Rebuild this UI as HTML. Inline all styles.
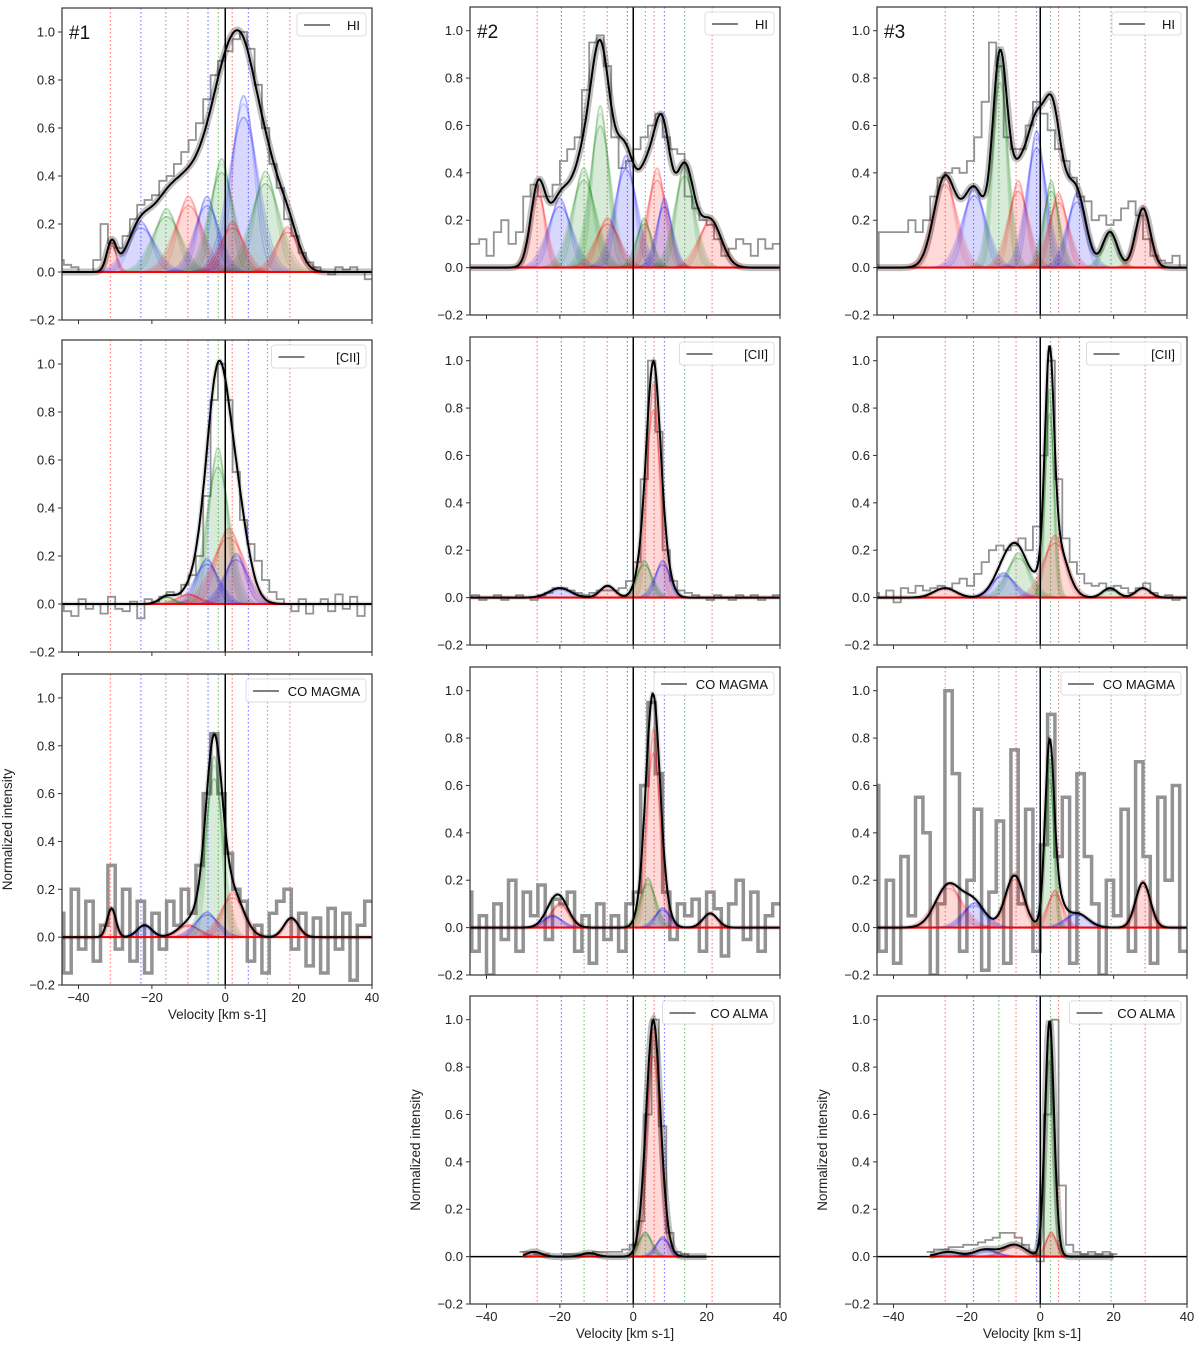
<!DOCTYPE html>
<html><head><meta charset="utf-8"><style>
body{margin:0;background:#fff}
svg{display:block;font-family:"Liberation Sans","DejaVu Sans",sans-serif}
</style></head><body>
<svg id="fig" width="1200" height="1348" viewBox="0 0 1200 1348" xmlns="http://www.w3.org/2000/svg"></svg>
<script>
// ---- data (velocity km/s, amplitude, width) ----
const ticksX=[-40,-20,0,20,40];
const ticksY=[-0.2,0,0.2,0.4,0.6,0.8,1.0];
const tickLabelsY=["\u22120.2","0.0","0.2","0.4","0.6","0.8","1.0"];
const tickLabelsX=["\u221240","\u221220","0","20","40"];
const lines1=[[-31.3,'r'],[-23,'b'],[-16.2,'g'],[-10.2,'r'],[-4.7,'b'],[-1.9,'g'],[1.9,'r'],[6.3,'b'],[11.5,'g'],[17.6,'r']];
const lines2=[[-26.2,'r'],[-19.6,'b'],[-13.4,'g'],[-7.1,'r'],[-1.6,'b'],[3.3,'g'],[5.7,'r'],[8.5,'b'],[14,'g'],[21.5,'r']];
const lines3=[[-25.9,'r'],[-18.2,'b'],[-11.3,'g'],[-6.6,'r'],[-1,'b'],[2.8,'g'],[5,'r'],[10.7,'b'],[19.3,'g'],[28.6,'r']];

const hi1_comps=[[-31,.12,1.3,'r'],[-23,.2,3.5,'b'],[-16,.25,3.5,'g'],[-10,.3,3.5,'r'],[-5,.3,3,'b'],[-1,.45,3,'g'],[5,.7,3.5,'b'],[11,.4,3.5,'g'],[17,.18,3,'r'],[2,.2,3,'r']];
const hi1_obs=[.05,.03,.02,0,0,.05,.2,.12,.1,.15,.22,.28,.3,.32,.38,.4,.45,.5,.55,.62,.72,.82,.88,.92,.97,1.0,.93,.78,.6,.45,.35,.22,.15,.08,.04,.02,0,-.01,.02,.01,.02,0,-.03];
const cii1_comps=[[-2,.62,2.8,'g'],[1,.3,4,'r'],[-5,.18,3,'b'],[3,.2,3,'b'],[-10,.04,3,'r'],[-16,.03,2,'g']];
const cii1_obs=[0,-.03,-.05,.02,-.02,0,-.04,.03,-.02,-.03,.01,-.06,.02,.01,.03,.05,.04,.08,.12,.2,.45,.85,1.0,.85,.55,.35,.25,.18,.1,.05,.02,0,-.03,.02,-.04,0,.02,-.03,.04,-.02,.03,-.05,0];
const co1_comps=[[-31,.12,1.2,'r'],[-22,.05,2,'b'],[-10,.05,3,'r'],[-3,.72,2.2,'g'],[-5,.1,3,'b'],[2,.18,3,'r'],[18,.08,2,'r']];
const co1_obs=[.1,-.15,.2,-.05,.15,-.1,.05,.3,-.05,.2,-.1,.15,-.15,.1,-.05,.15,.05,.2,.1,.3,.6,.85,.6,.35,.2,.15,-.1,.05,-.15,.1,.15,.2,-.05,.1,-.12,.08,-.15,.12,-.05,.1,-.18,.05,.15];

const hi2_comps=[[-26,.33,2,'r'],[-20,.28,3,'b'],[-13.5,.4,3,'g'],[-9,.65,2.5,'g'],[-7,.2,3,'r'],[-2,.45,2.8,'b'],[3,.2,2,'g'],[6.5,.4,2.5,'r'],[8.5,.28,2,'b'],[14,.42,2.5,'g'],[21,.2,3,'r']];
const hi2_obs=[.1,.1,.12,.05,.15,.2,.1,.15,.3,.35,.3,.3,.35,.45,.5,.55,.75,.95,.98,.85,.55,.42,.45,.5,.55,.6,.65,.55,.5,.48,.3,.25,.2,.18,.12,.05,.08,.12,.1,.05,.12,.08,.1];
const cii2_comps=[[5.5,.86,1.8,'r'],[3,.15,2,'g'],[8,.15,2,'b'],[-7,.05,2,'r'],[-20,.04,3,'b']];
const cii2_obs=[0,.01,-.01,0,.01,-.01,0,.01,0,-.01,.01,.02,.04,.04,.03,.02,.01,.02,.03,.03,.03,.04,.07,.15,.5,1.0,.7,.2,.07,.03,.02,.01,0,-.01,.01,0,-.01,.01,0,.01,-.01,0,.01];
const co2_comps=[[5.5,.8,1.8,'r'],[4,.2,2,'g'],[8,.08,2,'b'],[-20,.1,2.5,'r'],[-22,.05,2.5,'b'],[21,.06,2,'r']];
const co2_obs=[.15,-.1,.05,-.2,.1,-.05,.2,-.1,.15,.05,.18,-.05,.12,.1,.15,-.1,.05,-.15,.1,-.05,.05,-.1,.1,.15,.6,.95,.65,.15,-.05,.1,.05,.12,-.1,.15,.08,-.12,.1,.2,-.05,.15,-.1,.05,.1];
const alma2_comps=[[5.5,.92,1.8,'r'],[3.3,.1,1.8,'g'],[8,.08,1.8,'b'],[-27,.02,2,'r'],[-12,.015,2,'g']];
const alma2_obs=[.02,.02,.01,.01,0,0,.01,.01,.01,.01,.02,.02,.02,.02,.03,.05,.15,.6,1.0,.55,.1,.02,.01,0,0,0];

const hi3_comps=[[-26,.38,3,'r'],[-18,.33,3,'b'],[-11,.85,2,'g'],[-6,.35,2.5,'r'],[-1,.55,2.5,'b'],[3,.35,2,'g'],[5,.3,2.5,'r'],[10,.3,2.5,'b'],[19,.15,2,'g'],[28,.25,2,'r']];
const hi3_obs=[0,.15,.15,.15,.15,.2,.15,.2,.3,.38,.4,.42,.4,.45,.55,.7,.95,.85,.55,.5,.5,.6,.7,.65,.58,.5,.45,.38,.3,.28,.2,.22,.18,.2,.25,.28,.22,.12,.05,.03,.02,.05,0];
const cii3_comps=[[2.5,.84,1.2,'g'],[4,.25,3,'r'],[-6,.18,3,'g'],[-10,.1,3,'b'],[-26,.04,3,'r'],[19,.04,2,'g'],[28,.04,2,'r']];
const cii3_obs=[.02,0,.03,-.02,.04,.02,.05,.03,.04,.05,.04,.06,.08,.05,.1,.15,.2,.22,.2,.22,.25,.2,.3,.6,1.0,.5,.25,.15,.1,.06,.05,.06,.03,.05,.04,.02,.04,.06,.02,0,.01,-.01,0];
const co3_comps=[[-25,.18,3.5,'r'],[-18,.1,3,'b'],[-7,.22,2.5,'r'],[2.5,.68,1.2,'g'],[4,.15,2,'r'],[10,.06,3,'b'],[28,.19,2,'r']];
const co3_obs=[.6,-.1,.2,-.15,.3,.05,.55,.4,-.2,.1,1.0,.65,-.1,.2,.5,-.18,.15,.45,-.15,.75,.1,.5,-.1,.35,.9,.3,.55,-.15,.65,.3,.1,-.2,.2,.05,.5,-.1,.7,.3,-.15,.55,.2,.6,-.1];
const alma3_comps=[[2.5,.9,1.2,'g'],[3,.1,1.5,'r'],[-7,.05,3,'r'],[-15,.03,3,'b'],[-25,.02,3,'b']];
const alma3_obs=[.02,.03,.03,.04,.04,.05,.05,.06,.07,.08,.1,.1,.08,.05,.02,-.02,.6,1.0,.3,.05,.02,.01,.02,.01,.02,.01];

// ---- layout ----
const XMIN=-44.5,XMAX=40,YMIN=-0.2,YMAX=1.1;
const COLS=[62,470,877]; const W=310;
const panels=[
 {col:0,top:8,bot:320,comps:hi1_comps,obs:hi1_obs,start:-45,lines:lines1,leg:"HI",tag:"#1",band:true},
 {col:0,top:340,bot:652,comps:cii1_comps,obs:cii1_obs,start:-45,lines:lines1,leg:"[CII]"},
 {col:0,top:674,bot:985,comps:co1_comps,obs:co1_obs,start:-45,lines:lines1,leg:"CO MAGMA",xl:true,noisy:true},
 {col:1,top:7,bot:315,comps:hi2_comps,obs:hi2_obs,start:-45,lines:lines2,leg:"HI",tag:"#2",band:true},
 {col:1,top:337,bot:645,comps:cii2_comps,obs:cii2_obs,start:-45,lines:lines2,leg:"[CII]"},
 {col:1,top:667,bot:975,comps:co2_comps,obs:co2_obs,start:-45,lines:lines2,leg:"CO MAGMA",noisy:true},
 {col:1,top:996,bot:1304,comps:alma2_comps,obs:alma2_obs,start:-30,end:20,lines:lines2,leg:"CO ALMA",xl:true,band:true},
 {col:2,top:7,bot:315,comps:hi3_comps,obs:hi3_obs,start:-45,lines:lines3,leg:"HI",tag:"#3",band:true},
 {col:2,top:337,bot:645,comps:cii3_comps,obs:cii3_obs,start:-45,lines:lines3,leg:"[CII]"},
 {col:2,top:667,bot:975,comps:co3_comps,obs:co3_obs,start:-45,lines:lines3,leg:"CO MAGMA",noisy:true},
 {col:2,top:996,bot:1304,comps:alma3_comps,obs:alma3_obs,start:-30,end:20,lines:lines3,leg:"CO ALMA",xl:true,band:true}
];
const COL={r:'#ff0000',b:'#0000ff',g:'#008000'};
const NS="http://www.w3.org/2000/svg";
const svg=document.getElementById('fig');
function mk(tag,attrs,parent){const e=document.createElementNS(NS,tag);for(const k in attrs)e.setAttribute(k,attrs[k]);(parent||svg).appendChild(e);return e;}
function gauss(v,c){return c[1]*Math.exp(-0.5*Math.pow((v-c[0])/c[2],2));}

panels.forEach((p,pi)=>{
  const x0=COLS[p.col],x1=x0+W;
  const sx=v=>x0+(v-XMIN)/(XMAX-XMIN)*W;
  const sy=y=>p.bot-(y-YMIN)/(YMAX-YMIN)*(p.bot-p.top);
  const g=mk('g',{});
  
  
  const cid='clip'+pi;
  const cp=mk('clipPath',{id:cid},g);mk('rect',{x:x0,y:p.top,width:W,height:p.bot-p.top},cp);
  const inner=mk('g',{'clip-path':'url(#'+cid+')'},g);
  const vEnd=p.end!==undefined?p.end:XMAX;
  p.lines.forEach(l=>{
    const e=mk('line',{x1:sx(l[0]),x2:sx(l[0]),y1:p.top,y2:p.bot,stroke:COL[l[1]],'stroke-opacity':0.5,'stroke-width':1.2,'stroke-dasharray':'1.5,2.5'},inner);
    
    
  });
  let d='';const step=2;
  p.obs.forEach((val,i)=>{const v=p.start+step*i;const y=sy(val);
    d+=(i===0?'M':'L')+sx(v-step/2).toFixed(1)+','+y.toFixed(1)+'L'+sx(v+step/2).toFixed(1)+','+y.toFixed(1);});
  const ob=mk('path',{d:d,fill:'none',stroke:'#808080','stroke-width':p.noisy?3.5:1.8,'stroke-opacity':0.85},inner);
  
  
  const vs=[];for(let v=p.start;v<=vEnd+1e-9;v+=0.25)vs.push(v);
  p.comps.forEach(c=>{
    [0.8,0.9,1,1.1,1.2].forEach(f=>{
      const cc=[c[0],c[1]*(f===1?1:(f<1?1.05:0.92)),c[2]*f];
      let pd='M'+sx(vs[0]).toFixed(1)+','+sy(0).toFixed(1);
      vs.forEach(v=>{pd+='L'+sx(v).toFixed(1)+','+sy(gauss(v,cc)).toFixed(1);});
      pd+='L'+sx(vs[vs.length-1]).toFixed(1)+','+sy(0).toFixed(1)+'Z';
      const e=mk('path',{d:pd,fill:COL[c[3]],'fill-opacity':0.03,stroke:COL[c[3]],'stroke-opacity':0.15,'stroke-width':1.5},inner);
      
      
    });
  });
  const zl=mk('line',{x1:x0,x2:x1,y1:sy(0),y2:sy(0),stroke:'#000','stroke-width':1.5},inner);
  
  const rl=mk('line',{x1:sx(p.start),x2:sx(vEnd),y1:sy(0),y2:sy(0),stroke:'#ff0000','stroke-width':2},inner);
  
  const vl=mk('line',{x1:sx(0),x2:sx(0),y1:p.top,y2:p.bot,stroke:'#000','stroke-width':1.5},inner);
  
  let md='';vs.forEach((v,i)=>{let s=0;p.comps.forEach(c=>s+=gauss(v,c));md+=(i?'L':'M')+sx(v).toFixed(1)+','+sy(s).toFixed(1);});
  const bd=mk('path',{d:md,fill:'none',stroke:'#000','stroke-opacity':p.band?0.25:0.12,'stroke-width':p.band?7:5},inner);
  
  const m=mk('path',{d:md,fill:'none',stroke:'#000','stroke-width':2},inner);
  
  const fr=mk('rect',{x:x0,y:p.top,width:W,height:p.bot-p.top,fill:'none',stroke:'#333','stroke-width':1.2},g);
  
  ticksY.forEach((t,i)=>{
    mk('line',{x1:x0-4,x2:x0,y1:sy(t),y2:sy(t),stroke:'#333'},g);
    const tx=mk('text',{x:x0-7,y:sy(t)+4.5,'text-anchor':'end','font-size':13,fill:'#222'},g);
    tx.textContent=tickLabelsY[i];
    
  });
  ticksX.forEach((t,i)=>{
    mk('line',{x1:sx(t),x2:sx(t),y1:p.bot,y2:p.bot+4,stroke:'#333'},g);
    if(p.xl){const tx=mk('text',{x:sx(t),y:p.bot+17,'text-anchor':'middle','font-size':13,fill:'#222'},g);
      tx.textContent=tickLabelsX[i];
      }
  });
  if(p.xl){
    const xt=mk('text',{x:(x0+x1)/2,y:p.bot+34,'text-anchor':'middle','font-size':13.5,fill:'#222'},g);
    xt.textContent='Velocity [km s-1]';
    
    const yt=mk('text',{x:0,y:0,'text-anchor':'middle','font-size':13.5,fill:'#222',transform:'translate('+(x0-50)+','+((p.top+p.bot)/2)+') rotate(-90)'},g);
    yt.textContent='Normalized intensity';
    
  }
  if(p.tag){const t=mk('text',{x:x0+7,y:p.top+31,'font-size':19,fill:'#111'},g);t.textContent=p.tag;
    }
  const lw=p.leg.length*8.5+52;
  const lg=mk('g',{},g);
  
  mk('rect',{x:x1-6-lw,y:p.top+5,width:lw,height:23,rx:3,fill:'#fff','fill-opacity':0.85,stroke:'#ddd'},lg);
  mk('line',{x1:x1-6-lw+7,x2:x1-6-lw+33,y1:p.top+17,y2:p.top+17,stroke:'#808080','stroke-width':2},lg);
  const lt=mk('text',{x:x1-12,y:p.top+22,'text-anchor':'end','font-size':13,fill:'#111'},lg);
  lt.textContent=p.leg;
  
});
</script>
</body></html>
